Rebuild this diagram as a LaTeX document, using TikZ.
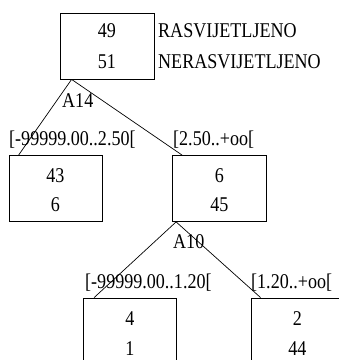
\documentclass[tikz,border=0pt]{standalone}
\usepackage{fontspec}
\setmainfont{Liberation Serif}[FakeStretch=0.86]
\usetikzlibrary{calc}
\begin{document}
\begin{tikzpicture}[x=1pt,y=-1pt,
  box/.style={draw=black,line width=0.8pt,rectangle,minimum width=93pt,minimum height=66pt,inner sep=0pt},
  txt/.style={inner sep=0pt,anchor=base,font=\fontsize{21}{25}\selectfont},
  ltxt/.style={inner sep=0pt,anchor=base west,font=\fontsize{21}{25}\selectfont},
  edge/.style={line width=0.7pt}]
\clip (0,0) rectangle (339,360);
\fill[white] (0,0) rectangle (339,360);
% boxes
\node[box,minimum width=94pt] (root) at (107,46) {};
\node[box] (left) at (55.5,188.5) {};
\node[box,minimum width=94pt] (right) at (219.5,188.5) {};
\node[box] (bl) at (130,331) {};
\node[box] (br) at (297.5,331) {};
% box texts
\node[txt] (r1) at (107,37) {49};
\node[txt] (r2) at (107,68) {51};
\node[ltxt] (c1) at (158,37) {RASVIJETLJENO};
\node[ltxt] (c2) at (158,68) {NERASVIJETLJENO};
\node[txt] (l1) at (55.5,182) {43};
\node[txt] (l2) at (55.5,211) {6};
\node[txt] (g1) at (219.5,182) {6};
\node[txt] (g2) at (219.5,211) {45};
\node[txt] (b1) at (130,325) {4};
\node[txt] (b2) at (130,355) {1};
\node[txt] (d1) at (297.5,325) {2};
\node[txt] (d2) at (297.5,355) {44};
% connector anchors
\coordinate (rs) at ([xshift=12pt]root.south west);
\coordinate (ln) at ([xshift=10pt]left.north west);
\coordinate (rn) at ([xshift=10pt]right.north west);
\coordinate (gs) at ([xshift=4pt]right.south west);
\coordinate (bn) at ([xshift=11pt]bl.north west);
\coordinate (dn) at ([xshift=10pt]br.north west);
\draw[edge] (rs) -- (ln);
\draw[edge] (rs) -- (rn);
\draw[edge] (gs) -- (bn);
\draw[edge] (gs) -- (dn);
% labels
\node[ltxt] (a14) at (62,107) {A14};
\node[ltxt] (a10) at (173,248) {A10};
\node[ltxt] (e1) at (9,145) {[-99999.00..2.50[};
\node[ltxt] (e2) at (173,145) {[2.50..+oo[};
\node[ltxt] (e3) at (85,288) {[-99999.00..1.20[};
\node[ltxt] (e4) at (251,288) {[1.20..+oo[};
\end{tikzpicture}
\end{document}
